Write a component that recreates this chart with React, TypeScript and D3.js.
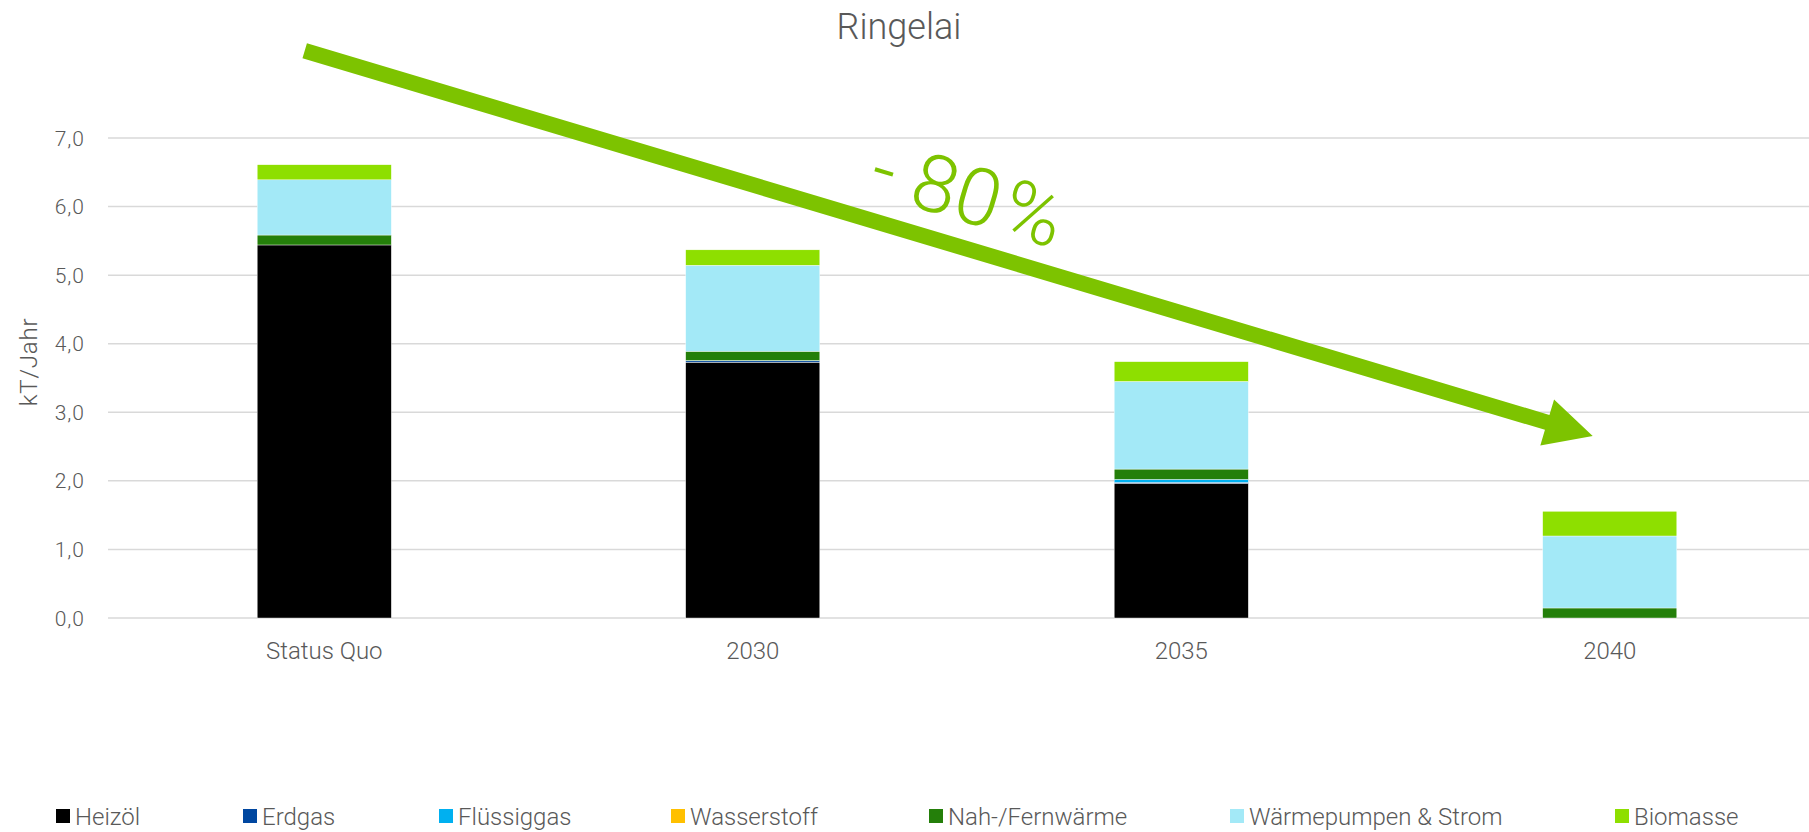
import React from "react";
import * as d3 from "d3";

const categories = ["Status Quo", "2030", "2035", "2040"];
const seriesNames = ["Heizöl", "Erdgas", "Flüssiggas", "Wasserstoff", "Nah-/Fernwärme", "Wärmepumpen & Strom", "Biomasse"];
const seriesColors = ["#000000", "#0047A0", "#00B0F0", "#FFC000", "#247F0A", "#A3E9F7", "#8EDF00"];
const heizoel = [5.44, 3.73, 1.965, 0];
const erdgas = [0, 0.02, 0.012, 0];
const fluessiggas = [0, 0.005, 0.045, 0];
const wasserstoff = [0, 0, 0, 0];
const nahFernwaerme = [0.145, 0.135, 0.15, 0.146];
const waermepumpen = [0.805, 1.254, 1.278, 1.05];
const biomasse = [0.22, 0.225, 0.288, 0.36];
const yTicks = [0, 1, 2, 3, 4, 5, 6, 7];
const title = "Ringelai";
const yTitle = "kT/Jahr";

// layout
const W = 1809, H = 832;
const legendX = [56, 243, 439, 671, 929, 1230, 1615];
const FONT = "Roboto, 'Noto Sans', sans-serif";
const TXT = "#595959";

export default function App() {
  const seriesValues = [heizoel, erdgas, fluessiggas, wasserstoff, nahFernwaerme, waermepumpen, biomasse];
  const rows = categories.map((c, i) => {
    const r: any = { cat: c };
    seriesNames.forEach((s, k) => (r[s] = seriesValues[k][i]));
    return r;
  });
  const stack = d3.stack<any>().keys(seriesNames)(rows);
  const x = d3.scaleBand<string>().domain(categories).range([110, 1824]).padding(0);
  const y = d3.scaleLinear().domain([0, 7]).range([618, 138]);
  const bw = x.bandwidth() * 0.313;

  // arrow
  const ax0 = 304.7, ay0 = 50.8, ax1 = 1592.7, ay1 = 436;
  const ang = (Math.atan2(ay1 - ay0, ax1 - ax0) * 180) / Math.PI;
  const L = Math.hypot(ax1 - ax0, ay1 - ay0);
  const sw = 7.8, hw = 24, hl = 47.5;
  const arrowPts = [
    [0, -sw], [L - hl, -sw], [L - hl, -hw], [L, 0], [L - hl, hw], [L - hl, sw], [0, sw],
  ].map((p) => p.join(",")).join(" ");

  return (
    <svg width={W} height={H} style={{ position: "absolute", left: 0, top: 0, background: "#fff" }} fontFamily={FONT}>
      <rect width={W} height={H} fill="#fff" />
      {yTicks.map((t) => (
        <g key={t}>
          <line x1={108} x2={W} y1={y(t)} y2={y(t)} stroke="#d9d9d9" strokeWidth={1.5} />
          <text x={85} y={y(t)} dy="0.36em" textAnchor="end" fontSize={21} fontWeight={300} letterSpacing={1} fill={TXT}>
            {d3.format(".1f")(t).replace(".", ",")}
          </text>
        </g>
      ))}
      <text transform={`translate(28,362) rotate(-90)`} textAnchor="middle" dy="0.36em" fontSize={24} fontWeight={300} letterSpacing={0.8} fill={TXT}>
        {yTitle}
      </text>
      {stack.map((s, k) => (
        <g key={s.key} fill={seriesColors[k]}>
          {s.map((d, i) => {
            const h = y(d[0]) - y(d[1]);
            if (h <= 0) return null;
            return (
              <rect key={i} x={(x(categories[i]) as number) + (x.bandwidth() - bw) / 2} y={y(d[1])} width={bw} height={h} stroke="#ffffff" strokeWidth={0.4} />
            );
          })}
        </g>
      ))}
      {categories.map((c) => (
        <text key={c} x={(x(c) as number) + x.bandwidth() / 2} y={650} dy="0.36em" textAnchor="middle" fontSize={24} fontWeight={300} fill={TXT}>
          {c}
        </text>
      ))}
      <text x={899} y={39} textAnchor="middle" fontSize={36} fontWeight={300} fill={TXT}>
        {title}
      </text>
      <polygon transform={`translate(${ax0},${ay0}) rotate(${ang})`} points={arrowPts} fill="#7DC300" />
      <text transform={`translate(968,193) rotate(16.5)`} textAnchor="middle" dy="0.36em" fontSize={80} fontWeight={300} fill="#7DC300">
        <tspan>- 80</tspan>
        <tspan wordSpacing={-14}> %</tspan>
      </text>
      {seriesNames.map((s, k) => (
        <g key={s} transform={`translate(${legendX[k]},816)`}>
          <rect x={0} y={-7} width={14} height={14} fill={seriesColors[k]} />
          <text x={19} y={0} dy="0.36em" fontSize={24} fontWeight={300} fill={TXT}>
            {s}
          </text>
        </g>
      ))}
    </svg>
  );
}
